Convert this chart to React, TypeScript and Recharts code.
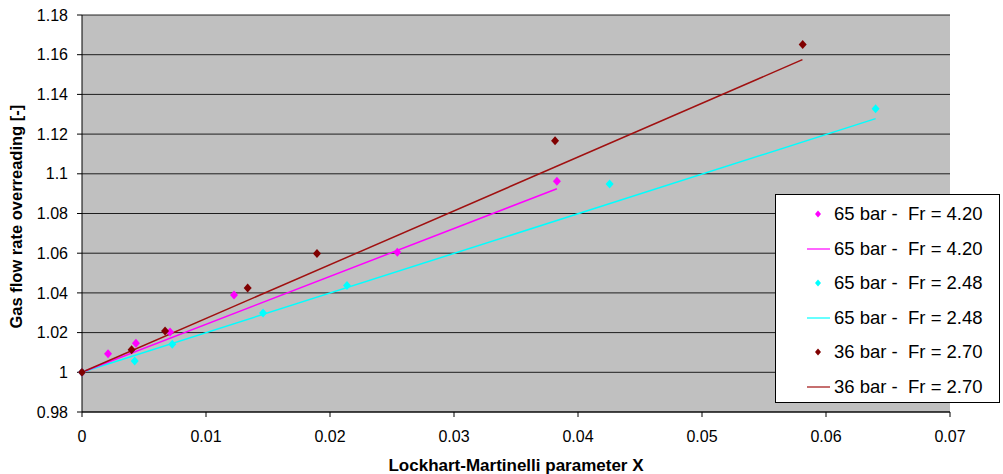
import {
  ScatterChart,
  Scatter,
  XAxis,
  YAxis,
  CartesianGrid,
  Legend,
} from "recharts";

// measured points, x = Lockhart-Martinelli parameter, y = overreading
const fr420X = [0, 0.0021, 0.00435, 0.0071, 0.01226, 0.02543, 0.0383];
const fr420Y = [1.0, 1.0093, 1.0146, 1.0203, 1.039, 1.0605, 1.0962];
const fr248X = [0, 0.00425, 0.00728, 0.0146, 0.02137, 0.04255, 0.064];
const fr248Y = [1.0, 1.0057, 1.0141, 1.0299, 1.0437, 1.0949, 1.1328];
const fr270X = [0, 0.004, 0.0067, 0.01336, 0.01895, 0.03815, 0.05812];
const fr270Y = [1.0, 1.0114, 1.0208, 1.0425, 1.0598, 1.1167, 1.1652];

// linear trend lines (start, end)
const trend420X = [0, 0.0383];
const trend420Y = [1.0, 1.0925];
const trend248X = [0, 0.064];
const trend248Y = [1.0, 1.1278];
const trend270X = [0, 0.0581];
const trend270Y = [1.0, 1.1575];

const xTicks = [0, 0.01, 0.02, 0.03, 0.04, 0.05, 0.06, 0.07];
const yTicks = [0.98, 1.0, 1.02, 1.04, 1.06, 1.08, 1.1, 1.12, 1.14, 1.16, 1.18];

const legendLabels = [
  "65 bar -  Fr = 4.20",
  "65 bar -  Fr = 4.20",
  "65 bar -  Fr = 2.48",
  "65 bar -  Fr = 2.48",
  "36 bar -  Fr = 2.70",
  "36 bar -  Fr = 2.70",
];

const colors = {
  magenta: "#FF00FF",
  cyan: "#00FFFF",
  darkRed: "#800000",
  redLine: "#A01010",
  plot: "#C0C0C0",
};

const legendItems = [
  { kind: "point", color: colors.magenta },
  { kind: "line", color: colors.magenta },
  { kind: "point", color: colors.cyan },
  { kind: "line", color: colors.cyan },
  { kind: "point", color: colors.darkRed },
  { kind: "line", color: colors.redLine },
];

const zip = (xs: number[], ys: number[]) => xs.map((x, i) => ({ x, y: ys[i] }));

const font = "'Liberation Sans', Arial, sans-serif";

const Diamond = (props: any) => {
  const { cx, cy, fill } = props;
  if (cx == null || cy == null) return <g />;
  return (
    <polygon
      points={`${cx},${cy - 4.5} ${cx + 4},${cy} ${cx},${cy + 4.5} ${cx - 4},${cy}`}
      fill={fill}
    />
  );
};

const NoShape = () => <g />;

const fmt = (v: number) => String(Number(v.toFixed(2)));

const renderLegend = () => (
  <div
    style={{
      position: "absolute",
      left: 775,
      top: 194,
      width: 225,
      height: 209,
      background: "#fff",
      border: "1px solid #000",
      boxSizing: "border-box",
      fontFamily: font,
      fontSize: 18.5,
      color: "#000",
    }}
  >
    {legendItems.map((it, i) => (
      <div
        key={i}
        style={{
          position: "absolute",
          left: 0,
          top: 7 + i * 34.6,
          height: 24,
          display: "flex",
          alignItems: "center",
        }}
      >
        <svg width={58} height={24}>
          {it.kind === "point" ? (
            <polygon points="42,8.5 45,12 42,15.5 39,12" fill={it.color} />
          ) : (
            <line x1={31} x2={54} y1={12} y2={12} stroke={it.color} strokeWidth={1.2} />
          )}
        </svg>
        <span style={{ whiteSpace: "pre", lineHeight: "24px" }}>{legendLabels[i]}</span>
      </div>
    ))}
  </div>
);

export default function App() {
  return (
    <div style={{ position: "absolute", left: 0, top: 0, width: 1003, height: 474, background: "#fff" }}>
      <ScatterChart
        width={1003}
        height={474}
        margin={{ top: 15, right: 53, bottom: 0, left: 0 }}
      >
        <CartesianGrid
          vertical={false}
          horizontal={true}
          stroke="#000"
          strokeOpacity={0.85}
          fill={colors.plot}
          fillOpacity={1}
        />
        <XAxis
          type="number"
          dataKey="x"
          domain={[0, 0.07]}
          ticks={xTicks}
          tickFormatter={fmt}
          height={62}
          stroke="#000"
          tickSize={5}
          fontSize={16}
          fontFamily={font}
          tick={{ fill: "#000", fontSize: 16, fontFamily: font, dy: 12 }}
          label={{
            value: "Lockhart-Martinelli parameter X",
            position: "insideBottom",
            offset: 3,
            style: { fontFamily: font, fontSize: 17, fontWeight: "bold", fill: "#000" },
          }}
        />
        <YAxis
          type="number"
          dataKey="y"
          domain={[0.98, 1.18]}
          ticks={yTicks}
          tickFormatter={fmt}
          width={82}
          stroke="#000"
          tickSize={5}
          interval={0}
          fontSize={16}
          fontFamily={font}
          tick={{ fill: "#000", fontSize: 16, fontFamily: font, dx: -7 }}
          label={{
            value: "Gas flow rate overreading [-]",
            angle: -90,
            position: "insideLeft",
            offset: 16,
            dy: 115,
            style: { fontFamily: font, fontSize: 16.5, fontWeight: "bold", fill: "#000" },
          }}
        />
        <Legend content={renderLegend} wrapperStyle={{ position: "absolute", left: 0, top: 0, width: 0, height: 0 }} />
        <Scatter
          data={zip(trend248X, trend248Y)}
          line={{ stroke: colors.cyan, strokeWidth: 1.5 }}
          shape={NoShape}
          fill={colors.cyan}
          isAnimationActive={false}
        />
        <Scatter
          data={zip(trend420X, trend420Y)}
          line={{ stroke: colors.magenta, strokeWidth: 1.5 }}
          shape={NoShape}
          fill={colors.magenta}
          isAnimationActive={false}
        />
        <Scatter
          data={zip(trend270X, trend270Y)}
          line={{ stroke: colors.redLine, strokeWidth: 1.5 }}
          shape={NoShape}
          fill={colors.redLine}
          isAnimationActive={false}
        />
        <Scatter data={zip(fr420X, fr420Y)} fill={colors.magenta} shape={Diamond} isAnimationActive={false} />
        <Scatter data={zip(fr248X, fr248Y)} fill={colors.cyan} shape={Diamond} isAnimationActive={false} />
        <Scatter data={zip(fr270X, fr270Y)} fill={colors.darkRed} shape={Diamond} isAnimationActive={false} />
      </ScatterChart>
    </div>
  );
}
